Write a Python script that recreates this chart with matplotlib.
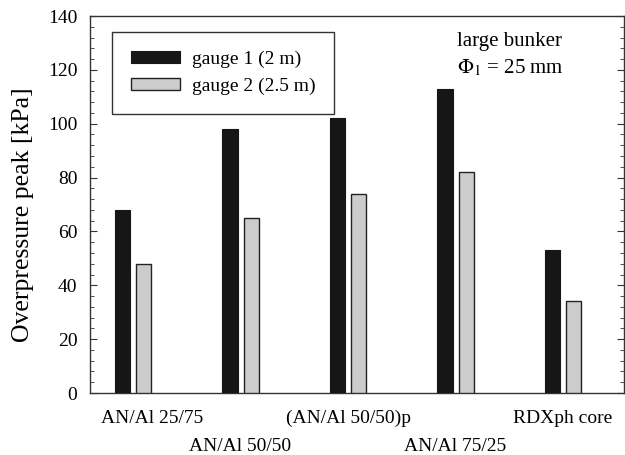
import matplotlib
matplotlib.use("Agg")
from matplotlib import pyplot as plt
from matplotlib.ticker import MultipleLocator
from matplotlib.transforms import ScaledTranslation
import numpy as np

# data
mixtures = ["AN/Al 25/75", "AN/Al 50/50", "(AN/Al 50/50)p", "AN/Al 75/25", "RDXph core"]
gauge1 = [68, 98, 102, 113, 53]
gauge2 = [48, 65, 74, 82, 34]

plt.rcParams['font.family'] = ['Liberation Serif', 'DejaVu Serif']
plt.rcParams['mathtext.fontset'] = 'stix'

fig = plt.figure(figsize=(6.25, 4.55), dpi=100)
ax = fig.add_axes([90 / 625, 1 - 393 / 455, 534 / 625, 377 / 455])

x = np.arange(len(mixtures))
w = 0.14
off = 0.098
ax.bar(x - off, gauge1, w, color="#161616", edgecolor="#161616", linewidth=0.8,
       label="gauge 1 (2 m)", zorder=3)
ax.bar(x + off, gauge2, w, color="#cccccc", edgecolor="#222222", linewidth=1.0,
       label="gauge 2 (2.5 m)", zorder=3)

ax.set_xlim(-0.4, 4.567)
ax.set_ylim(0, 140)
ax.yaxis.set_major_locator(MultipleLocator(20))
ax.yaxis.set_minor_locator(MultipleLocator(4))
ax.tick_params(axis='y', which='both', direction='in', right=True, labelsize=14,
               color='#333333', pad=9)
ax.tick_params(axis='y', which='major', length=5)
ax.tick_params(axis='y', which='minor', length=3)
ax.set_xticks(x)
ax.set_xticklabels(mixtures, fontsize=14)
ax.tick_params(axis='x', length=0, pad=12)
# staggered labels, first one nudged right like the original
for i, lab in enumerate(ax.get_xticklabels()):
    dx = 19 if i == 0 else 0
    dy = -28 if i % 2 == 1 else 0
    lab.set_transform(lab.get_transform() + ScaledTranslation(dx / 100, dy / 100, fig.dpi_scale_trans))
for s in ax.spines.values():
    s.set_color('#333333')
    s.set_linewidth(1.0)

ax.set_ylabel("Overpressure peak [kPa]", fontsize=18.5)
ax.yaxis.set_label_coords(-0.104, 0.474)

leg = ax.legend(loc='upper left', bbox_to_anchor=(0.041, 0.958), borderaxespad=0,
                fontsize=14, frameon=True, fancybox=False, edgecolor='black',
                handlelength=2.5, handleheight=0.57, borderpad=0.98,
                labelspacing=0.48, handletextpad=0.62)
leg.get_frame().set_linewidth(1.0)

ax.text(0.688, 0.920, "large bunker", transform=ax.transAxes, fontsize=15, va='baseline')
ax.text(0.688, 0.849, r"$\Phi_1$ = 25 mm", transform=ax.transAxes, fontsize=15, va='baseline')

fig.savefig("out.png", dpi=100)
